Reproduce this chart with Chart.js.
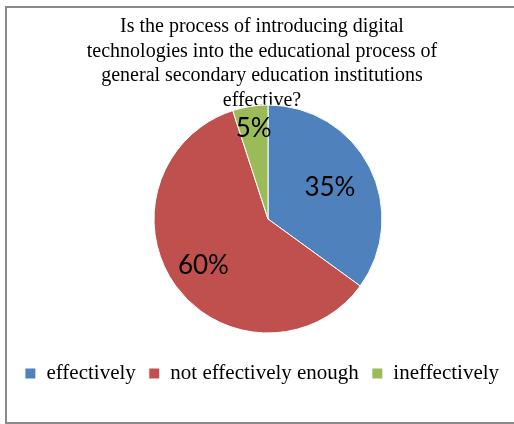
<!DOCTYPE html>
<html>
<head>
<meta charset="utf-8">
<script src="https://cdn.jsdelivr.net/npm/chart.js@4/dist/chart.umd.min.js"></script>
<style>
    html, body { margin: 0; padding: 0; background: #fff; overflow: hidden; }
    #frame {
        position: absolute;
        left: 5px; top: 6px; width: 509px; height: 418px;
        box-sizing: border-box;
        border-top: 2px solid #8a8a8a;
        border-left: 2px solid #8a8a8a;
        border-bottom: 2px solid #8a8a8a;
    }
    #box { position: absolute; left: 0; top: 0; width: 514px; height: 424px; }
</style>
</head>
<body>
<div id="frame"></div>
<div id="box"><canvas id="pieChart"></canvas></div>
<script>
const titleLines = [
    'Is the process of introducing digital',
    'technologies into the educational process of',
    'general secondary education institutions',
    'effective?'
];
const categories = ['effectively', 'not effectively enough', 'ineffectively'];
const shares = [35, 60, 5];
const colors = ['#4F81BD', '#C0504D', '#9BBB59'];

// nudge the pie sideways, the title and legend stay where the layout put them
const pieShift = {
    id: 'pieShift',
    afterLayout(chart, args, opts) {
        chart.chartArea.left += opts.dx;
        chart.chartArea.right += opts.dx;
    }
};

// percentage labels drawn inside each slice
const sliceLabels = {
    id: 'sliceLabels',
    afterDatasetsDraw(chart, args, opts) {
        const ctx = chart.ctx;
        const values = chart.data.datasets[0].data;
        const total = values.reduce((a, b) => a + b, 0);
        const arcs = chart.getDatasetMeta(0).data;
        ctx.save();
        ctx.font = opts.font;
        ctx.fillStyle = '#000';
        ctx.textAlign = 'center';
        ctx.textBaseline = 'middle';
        arcs.forEach((arc, i) => {
            const p = arc.getProps(['x', 'y', 'startAngle', 'endAngle', 'outerRadius'], true);
            const mid = (p.startAngle + p.endAngle) / 2;
            const r = p.outerRadius * opts.radius[i];
            const txt = Math.round(values[i] / total * 100) + '%';
            ctx.fillText(txt, p.x + Math.cos(mid) * r, p.y + Math.sin(mid) * r);
        });
        ctx.restore();
    }
};

new Chart(document.getElementById('pieChart'), {
    type: 'pie',
    data: {
        labels: categories,
        datasets: [{
            data: shares,
            backgroundColor: colors,
            borderColor: '#fff',
            borderWidth: 1
        }]
    },
    options: {
        responsive: true,
        maintainAspectRatio: false,
        animation: false,
        layout: { padding: { left: 10, right: 0, top: 0, bottom: 30 } },
        plugins: {
            title: {
                display: true,
                text: titleLines,
                color: '#000',
                font: { family: 'Liberation Serif', size: 20, weight: 'normal', lineHeight: 1.225 },
                padding: { top: 14.5, bottom: -8 }
            },
            legend: {
                position: 'bottom',
                title: { display: true, text: ' ', font: { size: 1, lineHeight: 1 }, padding: { top: 15.5, bottom: 0 } },
                labels: {
                    color: '#000',
                    font: { family: 'Liberation Serif', size: 21 },
                    boxWidth: 11,
                    boxHeight: 11,
                    padding: 13
                }
            },
            tooltip: { enabled: false },
            pieShift: { dx: 6 },
            sliceLabels: {
                font: '26px Lato',
                radius: [0.61, 0.70, 0.80]
            }
        }
    },
    plugins: [pieShift, sliceLabels]
});
</script>
</body>
</html>
